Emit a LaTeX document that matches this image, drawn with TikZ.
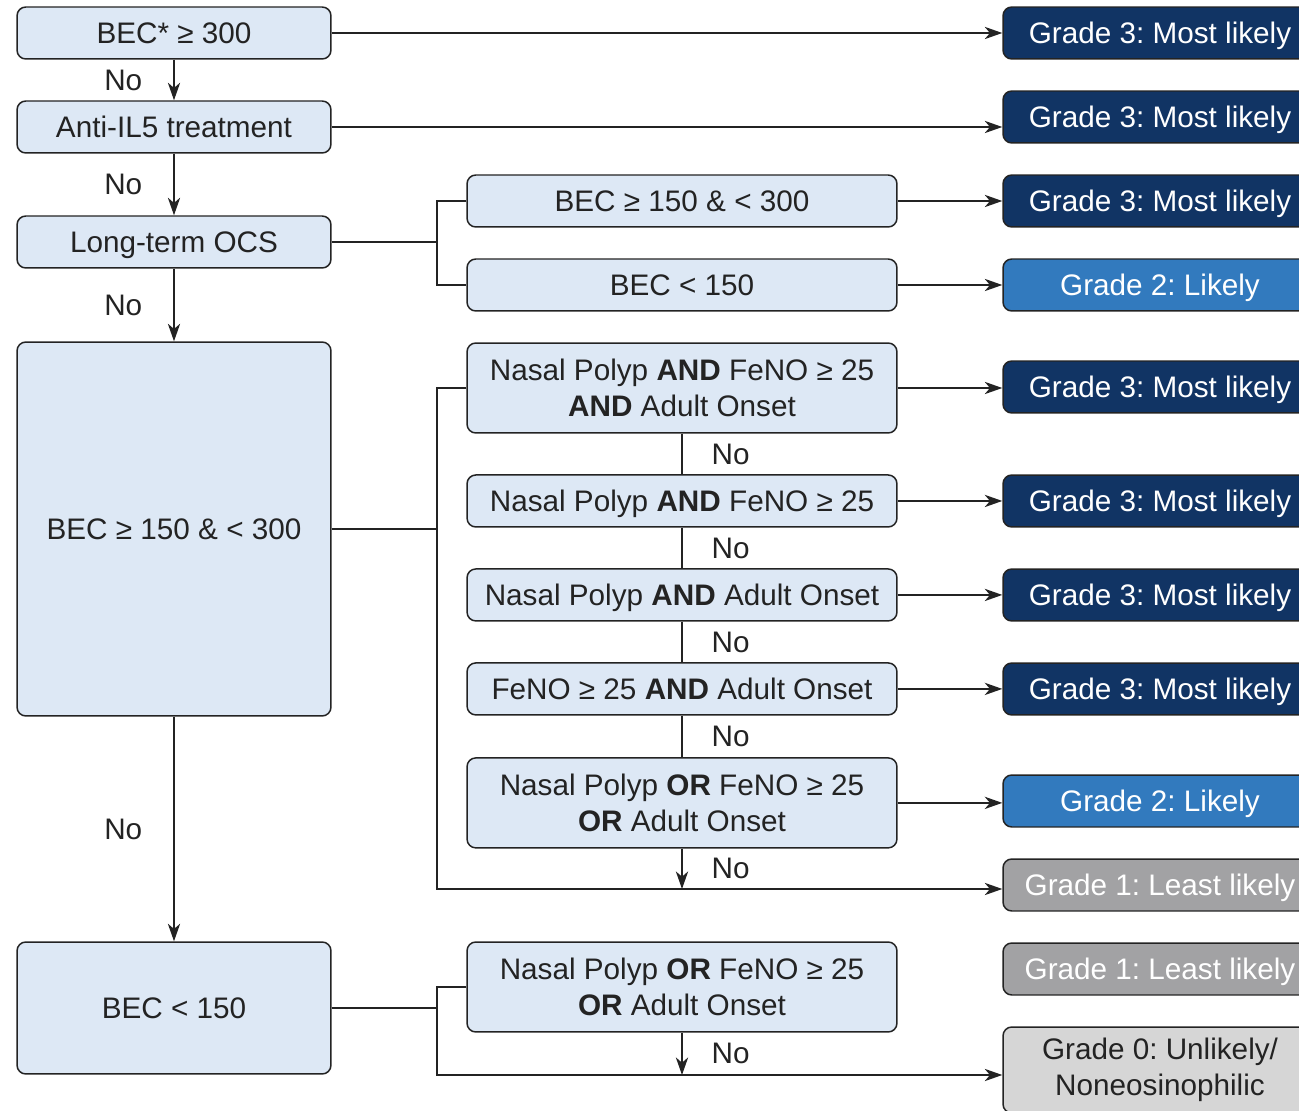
\documentclass[tikz,border=0pt]{standalone}
\usepackage{fontspec}
\setmainfont{Liberation Sans}
\usetikzlibrary{positioning, arrows.meta}
\definecolor{boxfill}{RGB}{221,232,245}
\definecolor{lineclr}{RGB}{35,35,35}
\definecolor{grnavy}{RGB}{17,52,100}
\definecolor{grblue}{RGB}{50,122,190}
\definecolor{grgray}{RGB}{162,162,164}
\definecolor{grlight}{RGB}{214,214,214}
\frenchspacing
\tikzset{
    every node/.style={font=\fontsize{16.9}{20.5}\selectfont, text=lineclr},
    critbox/.style={rectangle, rounded corners=5pt, draw=lineclr, fill=boxfill, line width=0.85pt, align=center, minimum height=1.04cm},
    leftbox/.style={critbox, minimum width=6.28cm},
    midbox/.style={critbox, minimum width=8.6cm},
    oneline/.style={text height=12.1pt, text depth=0pt},
    gradebox/.style={rectangle, rounded corners=5pt, draw=lineclr, fill=#1, line width=0.85pt, align=center, minimum width=6.28cm, minimum height=1.04cm, text=white},
    arr/.style={-{Stealth[length=10pt, width=7pt, inset=3pt]}, line width=0.85pt, draw=lineclr},
    lnk/.style={line width=0.85pt, draw=lineclr},
    nolbl/.style={inner sep=0pt}
}

\begin{document}
\begin{tikzpicture}[x=0.02cm, y=-0.02cm]
    \useasboundingbox (0,0) rectangle (1299,1111);
    % left column
    \node[leftbox, oneline] (bec300) at (174,33) {BEC* ≥ 300};
    \node[leftbox, oneline] (antiil5) at (174,127) {Anti-IL5 treatment};
    \node[leftbox, oneline] (ocs) at (174,242) {Long-term OCS};
    \node[leftbox, oneline, minimum height=7.48cm] (becmid) at (174,529) {BEC ≥ 150 \& < 300};
    \node[leftbox, oneline, minimum height=2.64cm] (beclow) at (174,1008) {BEC < 150};
    % middle column
    \node[midbox, oneline] (ocshigh) at (682,201) {BEC ≥ 150 \& < 300};
    \node[midbox, oneline] (ocslow) at (682,285) {BEC < 150};
    \node[midbox, minimum height=1.8cm] (npfa) at (682,388) {Nasal Polyp \textbf{AND} FeNO ≥ 25\\\textbf{AND} Adult Onset};
    \node[midbox, oneline, below=0.81cm of npfa] (npf) {Nasal Polyp \textbf{AND} FeNO ≥ 25};
    \node[midbox, oneline, below=0.81cm of npf] (npa) {Nasal Polyp \textbf{AND} Adult Onset};
    \node[midbox, oneline, below=0.81cm of npa] (fa) {FeNO ≥ 25 \textbf{AND} Adult Onset};
    \node[midbox, minimum height=1.8cm, below=0.83cm of fa] (anyone) {Nasal Polyp \textbf{OR} FeNO ≥ 25\\\textbf{OR} Adult Onset};
    \node[midbox, minimum height=1.8cm] (anylow) at (682,987) {Nasal Polyp \textbf{OR} FeNO ≥ 25\\\textbf{OR} Adult Onset};
    % grades
    \node[gradebox=grnavy, oneline] (g1) at (1160,33) {Grade 3: Most likely};
    \node[gradebox=grnavy, oneline] (g2) at (1160,117) {Grade 3: Most likely};
    \node[gradebox=grnavy, oneline] (g3) at (1160,201) {Grade 3: Most likely};
    \node[gradebox=grblue, oneline] (g4) at (1160,285) {Grade 2: Likely};
    \node[gradebox=grnavy, oneline] (g5) at (1160,387) {Grade 3: Most likely};
    \node[gradebox=grnavy, oneline] (g6) at (1160,501) {Grade 3: Most likely};
    \node[gradebox=grnavy, oneline] (g7) at (1160,595) {Grade 3: Most likely};
    \node[gradebox=grnavy, oneline] (g8) at (1160,689) {Grade 3: Most likely};
    \node[gradebox=grblue, oneline] (g9) at (1160,801) {Grade 2: Likely};
    \node[gradebox=grgray, oneline] (g10) at (1160,885) {Grade 1: Least likely};
    \node[gradebox=grgray, oneline] (g11) at (1160,969) {Grade 1: Least likely};
    \node[gradebox=grlight, text=lineclr, minimum height=1.72cm] (g12) at (1160,1070) {Grade 0: Unlikely/\\Noneosinophilic};
    % branch points
    \coordinate (ocsfork) at (437,242);
    \coordinate (midfork) at (437,529);
    \coordinate (midbase) at (682,889);
    \coordinate (lowfork) at (437,1008);
    \coordinate (lowbase) at (682,1075);
    % left chain
    \draw[arr] (bec300) -- (g1);
    \draw[arr] (antiil5) -- (antiil5 -| g2.west);
    \draw[arr] (bec300) -- node[left=0.62cm, nolbl] {No} (antiil5);
    \draw[arr] (antiil5) -- node[left=0.62cm, nolbl] {No} (ocs);
    \draw[arr] (ocs) -- node[left=0.62cm, nolbl] {No} (becmid);
    \draw[arr] (becmid) -- node[left=0.62cm, nolbl] {No} (beclow);
    % long-term OCS
    \draw[lnk] (ocs) -- (ocsfork);
    \draw[lnk] (ocshigh.west) -| (ocsfork) |- (ocslow.west);
    \draw[arr] (ocshigh) -- (g3);
    \draw[arr] (ocslow) -- (g4);
    % BEC 150-300
    \draw[lnk] (becmid) -- (midfork);
    \draw[lnk] (npfa.west) -| (midfork);
    \draw[arr] (midfork) |- (midbase -| g10.west);
    \draw[arr] (npfa) -- (npfa -| g5.west);
    \draw[arr] (npf) -- (npf -| g6.west);
    \draw[arr] (npa) -- (npa -| g7.west);
    \draw[arr] (fa) -- (fa -| g8.west);
    \draw[arr] (anyone) -- (anyone -| g9.west);
    \draw[lnk] (npfa) -- node[right=0.58cm, nolbl] {No} (npf);
    \draw[lnk] (npf) -- node[right=0.58cm, nolbl] {No} (npa);
    \draw[lnk] (npa) -- node[right=0.58cm, nolbl] {No} (fa);
    \draw[lnk] (fa) -- node[right=0.58cm, nolbl] {No} (anyone);
    \draw[arr] (anyone) -- node[right=0.58cm, nolbl] {No} (midbase);
    % BEC < 150
    \draw[lnk] (beclow) -- (lowfork);
    \draw[lnk] (anylow.west) -| (lowfork);
    \draw[arr] (lowfork) |- (lowbase -| g12.west);
    \draw[arr] (anylow) -- node[right=0.58cm, nolbl] {No} (lowbase);
\end{tikzpicture}
\end{document}
